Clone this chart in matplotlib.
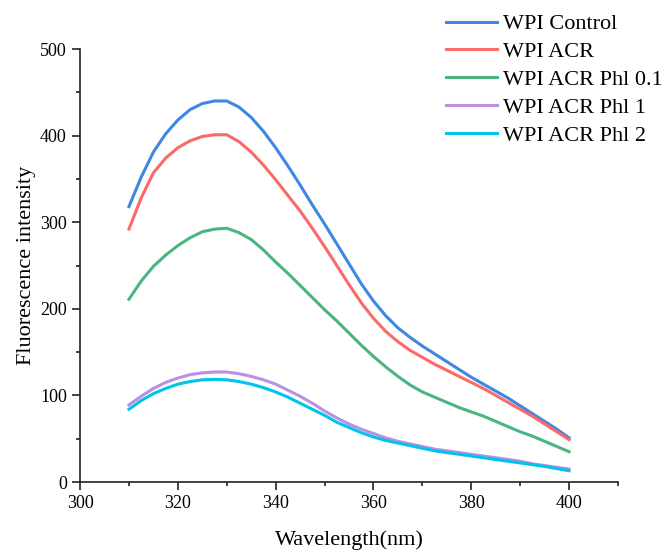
import numpy as np
import matplotlib
matplotlib.use("Agg")
import matplotlib.pyplot as plt
from matplotlib.ticker import MultipleLocator

plt.rcParams['font.family'] = ['Liberation Serif', 'DejaVu Serif']

# emission wavelength (nm)
wavelength = [310, 312.5, 315, 317.5, 320, 322.5, 325, 327.5, 330, 332.5,
              335, 337.5, 340, 342.5, 345, 347.5, 350, 352.5, 355, 357.5,
              360, 362.5, 365, 367.5, 370, 372.5, 375, 377.5, 380, 382.5,
              385, 387.5, 390, 392.5, 395, 397.5, 400]

# fluorescence intensity
wpi_control = [318, 352, 381, 402, 418, 430, 437, 440, 440, 433,
               421, 405, 386, 365, 343, 320, 298, 275, 252, 229,
               209, 192, 178, 167, 157, 148, 139, 130, 121, 113,
               105, 97, 88, 79, 70, 61, 51]
wpi_acr = [292, 328, 357, 374, 386, 394, 399, 401, 401, 393,
           381, 366, 349, 331, 313, 293, 272, 250, 228, 207,
           189, 174, 162, 152, 144, 136, 129, 122, 115, 108,
           100, 92, 84, 76, 67, 58, 49]
wpi_acr_phl01 = [211, 232, 249, 262, 273, 282, 289, 292, 293, 288,
                 280, 268, 254, 241, 227, 213, 199, 186, 172, 158,
                 145, 133, 122, 112, 104, 98, 92, 86, 81, 76,
                 70, 64, 58, 53, 47, 41, 35]
wpi_acr_phl1 = [89, 99, 108, 115, 120, 124, 126, 127, 127, 125,
                122, 118, 113, 106, 99, 91, 82, 74, 67, 61,
                56, 51, 47, 44, 41, 38, 36, 34, 32, 30,
                28, 26, 24, 21, 19, 17, 15]
wpi_acr_phl2 = [84, 94, 102, 108, 113, 116, 118, 118.5, 118, 116,
                113, 109, 104, 98, 91, 84, 77, 69, 63, 57,
                52, 48, 45, 42, 39, 36, 34, 32, 30, 28,
                26, 24, 22, 20, 18, 15.5, 13]

labels = ['WPI Control', 'WPI ACR', 'WPI ACR Phl 0.1', 'WPI ACR Phl 1', 'WPI ACR Phl 2']
colors = ['#3f87e3', '#fb6a67', '#4bb57f', '#bb8fe2', '#00c4ea']
series = [wpi_control, wpi_acr, wpi_acr_phl01, wpi_acr_phl1, wpi_acr_phl2]

fig = plt.figure(figsize=(6.67, 5.52), dpi=100)
ax = fig.add_axes([0.12, 0.1268, 0.8065, 0.7844])

for y, c, lab in zip(series, colors, labels):
    ax.plot(wavelength, y, color=c, lw=2.2, label=lab, solid_joinstyle='round')

ax.set_xlim(300, 410)
ax.set_ylim(0, 500)
ax.xaxis.set_major_locator(MultipleLocator(20))
ax.xaxis.set_minor_locator(MultipleLocator(10))
ax.yaxis.set_major_locator(MultipleLocator(100))
ax.yaxis.set_minor_locator(MultipleLocator(50))
ax.set_xticks([300, 320, 340, 360, 380, 400])

for side in ['top', 'right']:
    ax.spines[side].set_visible(False)
for side in ['left', 'bottom']:
    ax.spines[side].set_linewidth(1.2)
    ax.spines[side].set_color('#222222')

ax.tick_params(which='major', direction='out', length=6, width=1.2, labelsize=13, color='#222222')
ax.tick_params(which='minor', direction='out', length=3, width=1.2, color='#222222')

ax.set_xlabel('Wavelength(nm)', fontsize=16, labelpad=13)
ax.set_ylabel('Fluorescence intensity', fontsize=16, labelpad=3)

fig.legend(loc='upper left', bbox_to_anchor=(0.668, 0.975), frameon=False,
           fontsize=16, handlelength=2.3, handletextpad=0.3, labelspacing=0.33,
           borderpad=0, borderaxespad=0)

fig.savefig('out.png', dpi=100)
